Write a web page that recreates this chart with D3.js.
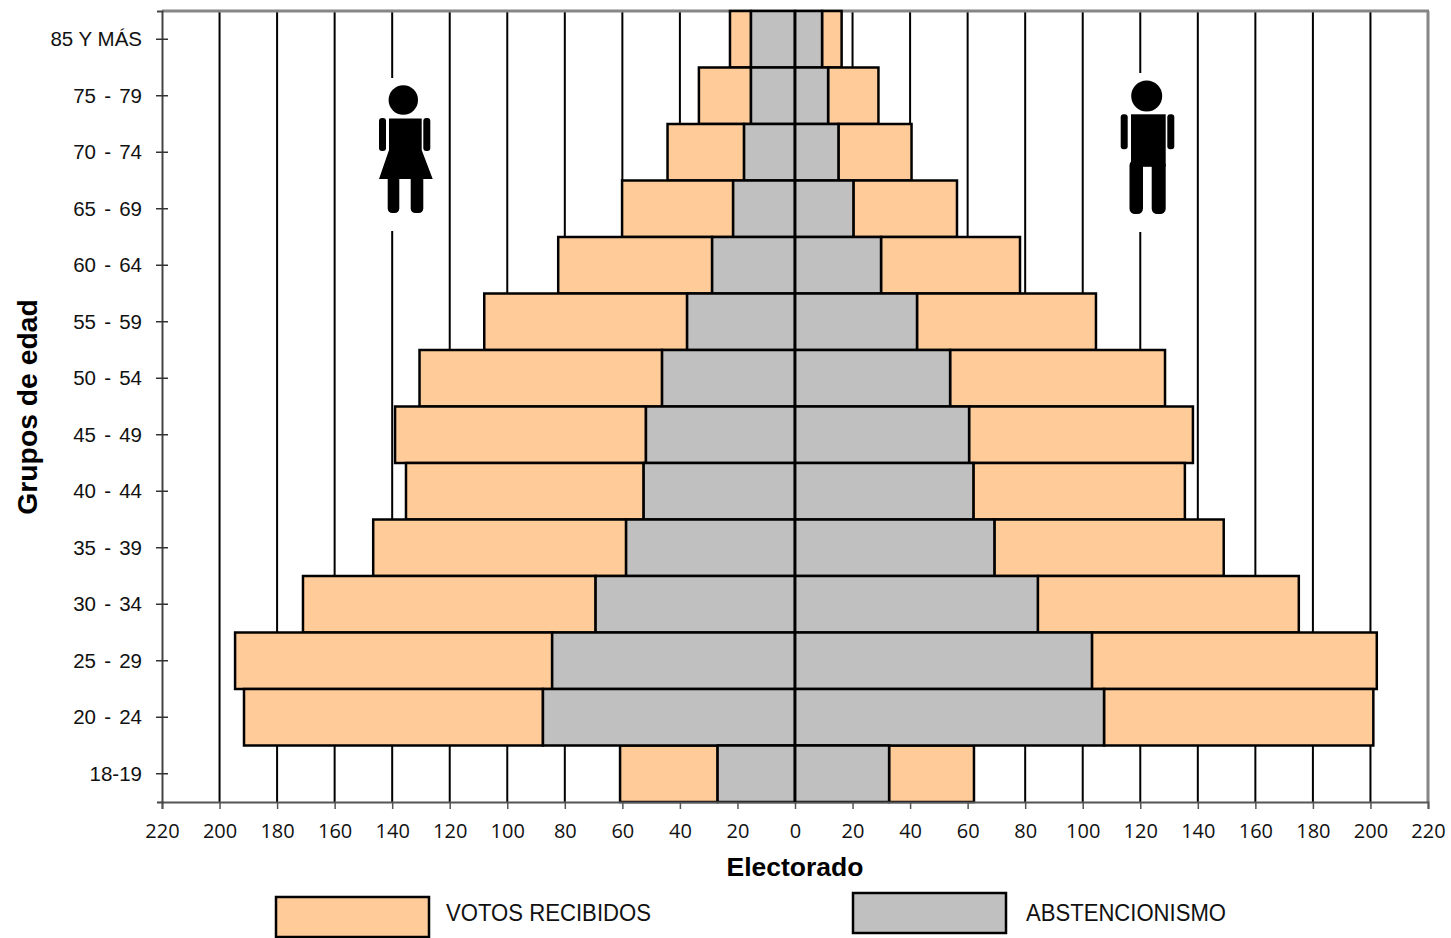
<!DOCTYPE html>
<html>
<head>
<meta charset="utf-8">
<script src="https://cdn.jsdelivr.net/npm/d3@7"></script>
<style>
body { margin: 0; background: #fff; }
svg { display: block; }
</style>
</head>
<body>
<script>
// Values, top to bottom
const grupos = ['85 Y MÁS', '75 - 79', '70 - 74', '65 - 69', '60 - 64', '55 - 59', '50 - 54',
    '45 - 49', '40 - 44', '35 - 39', '30 - 34', '25 - 29', '20 - 24', '18-19'];
const mujeresAbst = [15.3, 15.3, 17.7, 21.5, 28.8, 37.5, 46.2, 51.8, 52.6, 58.7, 69.3, 84.4, 87.6, 26.9];
const mujeresVotos = [7.3, 18.1, 26.6, 38.6, 53.5, 70.5, 84.3, 87.2, 82.6, 87.9, 101.7, 110.2, 103.9, 33.9];
const hombresAbst = [9.4, 11.5, 15.1, 20.3, 29.9, 42.4, 53.9, 60.5, 62, 69.3, 84.4, 103.2, 107.4, 32.7];
const hombresVotos = [6.8, 17.5, 25.4, 36, 48.3, 62.2, 74.7, 77.8, 73.5, 79.7, 90.7, 99, 93.6, 29.5];
const ticksX = d3.range(-220, 221, 20);

const colorVotos = '#ffcc99', colorAbst = '#c0c0c0';
const fontTicks = '"Open Sans", sans-serif';
const fontEjes = '"Liberation Sans", Arial, sans-serif';

const svg = d3.select('body').append('svg').attr('width', 1451).attr('height', 938);

const x = d3.scaleLinear().domain([-220, 220]).range([162, 1428]);
const y = d3.scaleBand().domain(grupos).range([11, 802]);

// Grid
svg.append('g').selectAll('line')
    .data(ticksX.filter(d => Math.abs(d) < 220 && d !== 0))
    .join('line')
    .attr('x1', d => x(d)).attr('x2', d => x(d))
    .attr('y1', 11).attr('y2', 802)
    .attr('stroke', '#000').attr('stroke-width', 2);

// Plot frame, grey at the top and right
svg.append('line').attr('x1', 162).attr('x2', 1429).attr('y1', 11).attr('y2', 11)
    .attr('stroke', '#868686').attr('stroke-width', 3);
svg.append('line').attr('x1', 1428).attr('x2', 1428).attr('y1', 11).attr('y2', 802)
    .attr('stroke', '#868686').attr('stroke-width', 3);

// Bars: abstention from the centre, votes stacked on top
function barras(abst, votos, signo) {
    const g = svg.append('g').attr('stroke', '#000').attr('stroke-width', 2.5);
    const caja = (sel, a, b, fill) => sel.join('rect')
        .attr('x', (d, i) => Math.min(x(signo * a(i)), x(signo * b(i))))
        .attr('width', (d, i) => Math.abs(x(signo * b(i)) - x(signo * a(i))))
        .attr('y', d => y(d))
        .attr('height', y.bandwidth())
        .attr('fill', fill);
    caja(g.append('g').selectAll('rect').data(grupos), i => abst[i], i => abst[i] + votos[i], colorVotos);
    caja(g.append('g').selectAll('rect').data(grupos), i => 0, i => abst[i], colorAbst);
}
barras(mujeresAbst, mujeresVotos, -1);
barras(hombresAbst, hombresVotos, 1);

// Axes
const ejeX = svg.append('g')
    .attr('transform', 'translate(0,802)')
    .call(d3.axisBottom(x).tickValues(ticksX).tickFormat(d => Math.abs(d)).tickSize(7).tickPadding(15));
ejeX.select('.domain').attr('stroke', '#555').attr('stroke-width', 2);
ejeX.selectAll('line').attr('stroke', '#555').attr('stroke-width', 1.5);
ejeX.selectAll('text').attr('font-family', fontTicks).attr('font-size', 20).attr('fill', '#111');

const ejeY = svg.append('g')
    .attr('transform', 'translate(162,0)')
    .call(d3.axisLeft(y).tickSize(5).tickPadding(15));
ejeY.select('.domain').attr('stroke', '#444').attr('stroke-width', 2);
ejeY.selectAll('.tick line').attr('x1', -6).attr('x2', 6).attr('stroke', '#333').attr('stroke-width', 1.5);
ejeY.selectAll('text')
    .attr('font-family', fontEjes).attr('font-size', 20.5).attr('fill', '#111')
    .attr('dy', '0.33em')
    .attr('word-spacing', d => d.includes(' - ') ? 2.5 : 0);

svg.append('line').attr('x1', x(0)).attr('x2', x(0)).attr('y1', 11).attr('y2', 802)
    .attr('stroke', '#000').attr('stroke-width', 2.5);

// Axis titles
svg.append('text').text('Electorado')
    .attr('x', x(0)).attr('y', 876)
    .attr('text-anchor', 'middle')
    .attr('font-family', fontEjes).attr('font-weight', 'bold').attr('font-size', 26.5);
svg.append('text').text('Grupos de edad')
    .attr('transform', 'translate(37,407) rotate(-90)')
    .attr('text-anchor', 'middle')
    .attr('font-family', fontEjes).attr('font-weight', 'bold').attr('font-size', 28.3);

// Legend, text squeezed a little as in the original
const leyenda = [
    { texto: 'VOTOS RECIBIDOS', color: colorVotos, x: 276, y: 897, tx: 446, ty: 921, ancho: 205 },
    { texto: 'ABSTENCIONISMO', color: colorAbst, x: 853, y: 893, tx: 1026, ty: 921, ancho: 200 }
];
leyenda.forEach(d => {
    svg.append('rect').attr('x', d.x).attr('y', d.y).attr('width', 153).attr('height', 40)
        .attr('fill', d.color).attr('stroke', '#000').attr('stroke-width', 2.5);
    svg.append('text').text(d.texto).attr('x', d.tx).attr('y', d.ty)
        .attr('textLength', d.ancho).attr('lengthAdjust', 'spacingAndGlyphs')
        .attr('font-family', fontEjes).attr('font-size', 24).attr('fill', '#111');
});

// Figures: each sits on a white patch that hides the grid line
const mujer = svg.append('g');
mujer.append('rect').attr('x', 376).attr('y', 78).attr('width', 60).attr('height', 153).attr('fill', '#fff');
mujer.append('circle').attr('cx', 403.3).attr('cy', 100).attr('r', 14.7);
mujer.append('path').attr('d', 'M389 118.5H421.7V150L432.7 179H379L389 150Z');
mujer.append('rect').attr('x', 379).attr('y', 118).attr('width', 7).attr('height', 33).attr('rx', 3);
mujer.append('rect').attr('x', 423.3).attr('y', 118).attr('width', 7).attr('height', 33).attr('rx', 3);
mujer.append('rect').attr('x', 387.7).attr('y', 175).attr('width', 11.6).attr('height', 38).attr('rx', 4.5);
mujer.append('rect').attr('x', 410.7).attr('y', 175).attr('width', 12.6).attr('height', 38).attr('rx', 4.5);

const hombre = svg.append('g');
hombre.append('rect').attr('x', 1118).attr('y', 73).attr('width', 60).attr('height', 159).attr('fill', '#fff');
hombre.append('circle').attr('cx', 1146.7).attr('cy', 96).attr('r', 15.5);
hombre.append('rect').attr('x', 1131).attr('y', 114.3).attr('width', 34.7).attr('height', 52.5);
hombre.append('rect').attr('x', 1120.7).attr('y', 114.3).attr('width', 7).attr('height', 35).attr('rx', 3);
hombre.append('rect').attr('x', 1167.3).attr('y', 114.3).attr('width', 7).attr('height', 35).attr('rx', 3);
hombre.append('rect').attr('x', 1129.5).attr('y', 160).attr('width', 13.5).attr('height', 54).attr('rx', 5.5);
hombre.append('rect').attr('x', 1151.7).attr('y', 160).attr('width', 14).attr('height', 54).attr('rx', 5.5);
</script>
</body>
</html>
